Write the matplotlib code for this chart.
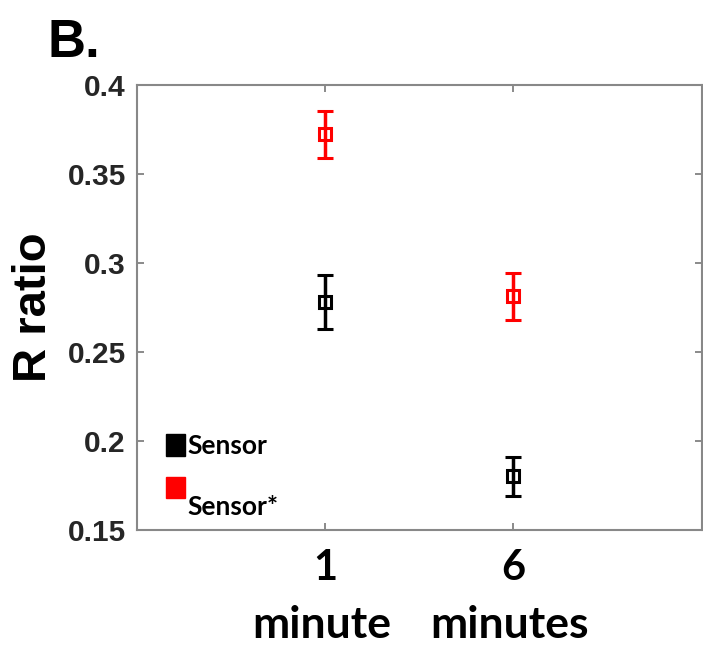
import matplotlib.pyplot as plt
from matplotlib.patches import Rectangle
from matplotlib.transforms import blended_transform_factory

# data
positions = [1, 2]
tick_labels = ["1", "6"]
unit_labels = ["minute", "minutes"]

sensor_mean = [0.278, 0.180]
sensor_err = [0.015, 0.011]
sensor_star_mean = [0.372, 0.281]
sensor_star_err = [0.013, 0.013]

fig = plt.figure(figsize=(7.03, 6.46), dpi=100)
ax = fig.add_axes([0.195, 0.18, 0.803, 0.689])

for mean, err, col in [(sensor_mean, sensor_err, "black"),
                       (sensor_star_mean, sensor_star_err, "red")]:
    ax.errorbar(positions, mean, yerr=err, fmt="s", color=col, mfc="none",
                mec=col, ms=9, mew=2.2, elinewidth=2.5, capsize=6, capthick=2.5)

ax.set_xlim(0, 3)
ax.set_ylim(0.15, 0.4)
ax.set_yticks([0.15, 0.2, 0.25, 0.3, 0.35, 0.4])
ax.set_yticklabels(["0.15", "0.2", "0.25", "0.3", "0.35", "0.4"],
                   fontsize=21.5, fontweight="bold", color="#262626",
                   family="Liberation Sans")
ax.set_xticks(positions)
ax.set_xticklabels(tick_labels, fontsize=30, fontweight="bold",
                   family="Lato", color="black")
ax.tick_params(axis="both", direction="in", length=5, width=1.2,
               color="#777777", top=True, right=True)
ax.tick_params(axis="x", pad=14)
ax.tick_params(axis="y", pad=8)
for s in ax.spines.values():
    s.set_color("#888888")
    s.set_linewidth(1.5)

trans = blended_transform_factory(ax.transData, ax.transAxes)
for p, u in zip(positions, unit_labels):
    ax.text(p - 0.02, -0.215, u, transform=trans, ha="center", va="center",
            fontsize=32, fontweight="bold", family="Lato")

ax.set_ylabel("R ratio", fontsize=34, fontweight="bold",
              family="Liberation Sans", labelpad=8)

# hand-made legend
ax.add_patch(Rectangle((0.0513, 0.166), 0.034, 0.05, transform=ax.transAxes,
                       color="black", clip_on=False))
ax.text(0.0885, 0.187, "Sensor", transform=ax.transAxes, fontsize=19,
        fontweight="bold", family="Lato", va="center", ha="left")
ax.add_patch(Rectangle((0.0513, 0.072), 0.034, 0.047, transform=ax.transAxes,
                       color="red", clip_on=False))
ax.text(0.0885, 0.052, "Sensor*", transform=ax.transAxes, fontsize=19,
        fontweight="bold", family="Lato", va="center", ha="left")

fig.text(0.068, 0.912, "B.", fontsize=38, fontweight="bold",
         family="Liberation Sans", ha="left", va="baseline")

fig.savefig("out.png", dpi=100)
